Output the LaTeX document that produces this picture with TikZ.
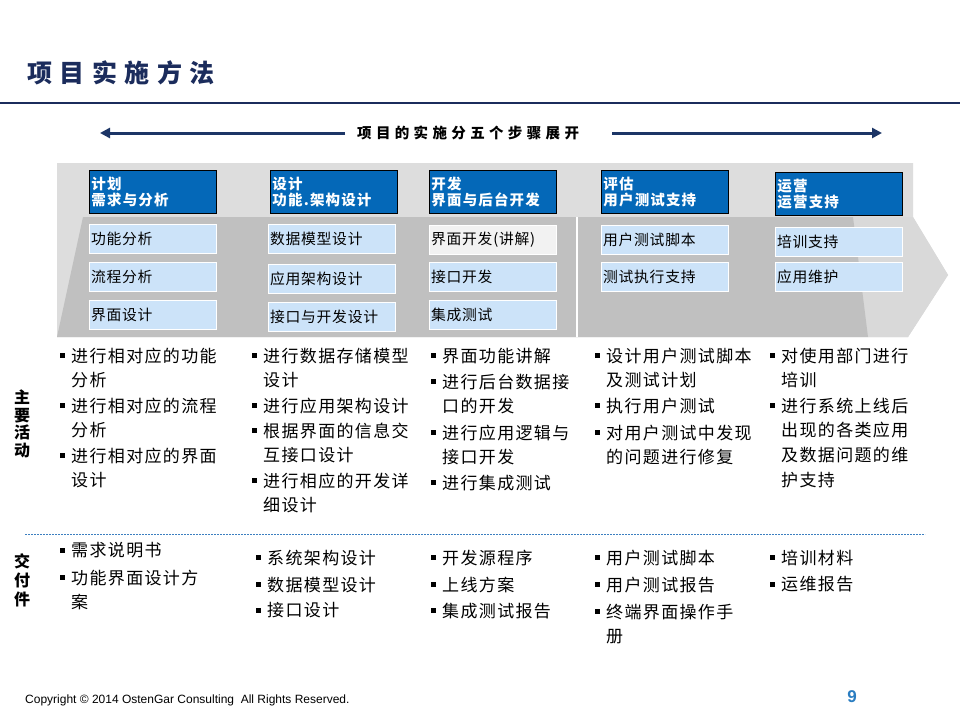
\documentclass[tikz,border=0pt]{standalone}
\usepackage{fontspec}
\setmainfont{Liberation Sans}
\newfontfamily\cjk{Noto Sans CJK SC}
\newfontfamily\cjkT[LetterSpace=30]{Noto Sans CJK SC}
\newfontfamily\cjkA[LetterSpace=30]{Noto Sans CJK SC}
\newfontfamily\cjkB[LetterSpace=8]{Noto Sans CJK SC}
\newfontfamily\cjkC[LetterSpace=5]{Noto Sans CJK SC}
\usetikzlibrary{arrows.meta}
\definecolor{hdrblue}{HTML}{0468B8}
\definecolor{itemblue}{HTML}{CCE3F9}
\definecolor{lgray}{HTML}{DDDDDD}
\definecolor{dgray}{HTML}{C0C0C0}
\definecolor{chgray}{HTML}{D9D9D9}
\definecolor{navy}{HTML}{1B2C5C}
\definecolor{arrnavy}{HTML}{1C3566}
\definecolor{dashblue}{HTML}{3C7FC0}
\definecolor{pgblue}{HTML}{2A7DC1}
\definecolor{offwhite}{HTML}{F2F2F2}
\newcommand\bitem[4]{%
  \fill (#2-2.5,#3-2.5) rectangle (#2+2.5,#3+2.5);
  \node[btext] (#1) at (#2+9,#3-7.5) {#4};
}
\begin{document}
\begin{tikzpicture}[x=1pt,y=-1pt,
  hdr/.style={draw=black, line width=0.9pt, fill=hdrblue, text=white,
    inner xsep=2pt, inner ysep=0pt, text width=123pt, align=left,
    minimum height=43pt, anchor=north west,
    font=\cjkB\bfseries\fontsize{14.5}{16}\selectfont},
  itm/.style={draw=white, line width=1.2pt, fill=itemblue,
    inner xsep=1.5pt, inner ysep=0pt, text width=124pt, align=left,
    minimum height=29pt, anchor=north west,
    font=\cjkC\fontsize{14.8}{16}\selectfont},
  btext/.style={anchor=north west, inner sep=0pt, align=left,
    font=\cjkB\fontsize{17}{24.8}\selectfont},
  vlabel/.style={inner sep=0pt, align=center,
    font=\cjk\bfseries\fontsize{16}{17.5}\selectfont},
  arr/.style={draw=arrnavy, line width=3pt, -{Triangle[length=10pt,width=10pt]}}
]
\useasboundingbox (0,0) rectangle (960,720);
\fill[white] (0,0) rectangle (960,720);

% title
\node[anchor=west, inner sep=0pt, text=navy,
  font=\cjkT\bfseries\fontsize{25}{27}\selectfont] (title) at (27,73) {项目实施方法};
\draw[navy, line width=1.3pt] (0,103) -- (960,103);

% top arrow
\node[anchor=west, inner sep=0pt,
  font=\cjkA\bfseries\fontsize{14.5}{16}\selectfont] (atext) at (357,133) {项目的实施分五个步骤展开};
\coordinate (la1) at (345,133);
\coordinate (la2) at (100,133);
\coordinate (ra1) at (612,133);
\coordinate (ra2) at (882,133);
\draw[arr] (la1) -- (la2);
\draw[arr] (ra1) -- (ra2);

% background band
\fill[lgray] (57,163) -- (913,163) -- (913,217) -- (948,275) -- (908,337) -- (57,337) -- cycle;
\fill[chgray] (853,217) -- (913,217) -- (948,275) -- (908,337) -- (868,337) -- cycle;
\fill[dgray] (83,217) -- (853,217) -- (868,337) -- (57,337) -- cycle;
\draw[white, line width=1.5pt] (577,217) -- (577,337);

% header boxes
\node[hdr] (h1) at (89,170) {计划\\需求与分析};
\node[hdr] (h2) at (270,170) {设计\\功能.架构设计};
\node[hdr] (h3) at (429,170) {开发\\界面与后台开发};
\node[hdr] (h4) at (601,170) {评估\\用户测试支持};
\node[hdr] (h5) at (775,172) {运营\\运营支持};

% item boxes
\node[itm] (i11) at (89,224) {功能分析};
\node[itm] (i12) at (89,262) {流程分析};
\node[itm] (i13) at (89,300) {界面设计};
\node[itm] (i21) at (268,224) {数据模型设计};
\node[itm] (i22) at (268,264) {应用架构设计};
\node[itm] (i23) at (268,302) {接口与开发设计};
\node[itm, fill=offwhite] (i31) at (429,225) {界面开发(讲解)};
\node[itm] (i32) at (429,262) {接口开发};
\node[itm] (i33) at (429,300) {集成测试};
\node[itm] (i41) at (601,225) {用户测试脚本};
\node[itm] (i42) at (601,262) {测试执行支持};
\node[itm] (i51) at (775,227) {培训支持};
\node[itm] (i52) at (775,262) {应用维护};

% main activities
\node[vlabel] (lab1) at (22,424) {主\\要\\活\\动};
\bitem{a11}{62}{355}{进行相对应的功能\\分析}
\bitem{a12}{62}{405}{进行相对应的流程\\分析}
\bitem{a13}{62}{455}{进行相对应的界面\\设计}
\bitem{a21}{254}{355}{进行数据存储模型\\设计}
\bitem{a22}{254}{405}{进行应用架构设计}
\bitem{a23}{254}{430}{根据界面的信息交\\互接口设计}
\bitem{a24}{254}{480}{进行相应的开发详\\细设计}
\bitem{a31}{433}{355}{界面功能讲解}
\bitem{a32}{433}{381}{进行后台数据接\\口的开发}
\bitem{a33}{433}{432}{进行应用逻辑与\\接口开发}
\bitem{a34}{433}{482}{进行集成测试}
\bitem{a41}{597}{355}{设计用户测试脚本\\及测试计划}
\bitem{a42}{597}{405}{执行用户测试}
\bitem{a43}{597}{432}{对用户测试中发现\\的问题进行修复}
\bitem{a51}{772}{355}{对使用部门进行\\培训}
\bitem{a52}{772}{405}{进行系统上线后\\出现的各类应用\\及数据问题的维\\护支持}

% separator
\draw[dashblue, line width=0.8pt, dash pattern=on 2pt off 1pt] (25,534) -- (925,534);

% deliverables
\node[vlabel, font=\cjk\bfseries\fontsize{16}{19}\selectfont] (lab2) at (22,580) {交\\付\\件};
\bitem{d11}{62}{550}{需求说明书}
\bitem{d12}{62}{577}{功能界面设计方\\案}
\bitem{d21}{258}{557}{系统架构设计}
\bitem{d22}{258}{584}{数据模型设计}
\bitem{d23}{258}{610}{接口设计}
\bitem{d31}{433}{557}{开发源程序}
\bitem{d32}{433}{584}{上线方案}
\bitem{d33}{433}{610}{集成测试报告}
\bitem{d41}{597}{557}{用户测试脚本}
\bitem{d42}{597}{584}{用户测试报告}
\bitem{d43}{597}{611}{终端界面操作手\\册}
\bitem{d51}{772}{557}{培训材料}
\bitem{d52}{772}{584}{运维报告}

% footer
\node[anchor=west, inner sep=0pt, font=\fontsize{12}{14}\selectfont] (copy) at (25,700)
  {Copyright \textcopyright{} 2014 OstenGar Consulting\ \ All Rights Reserved.};
\node[inner sep=0pt, text=pgblue, font=\bfseries\fontsize{17}{18}\selectfont] (pg) at (852,697) {9};
\end{tikzpicture}
\end{document}
